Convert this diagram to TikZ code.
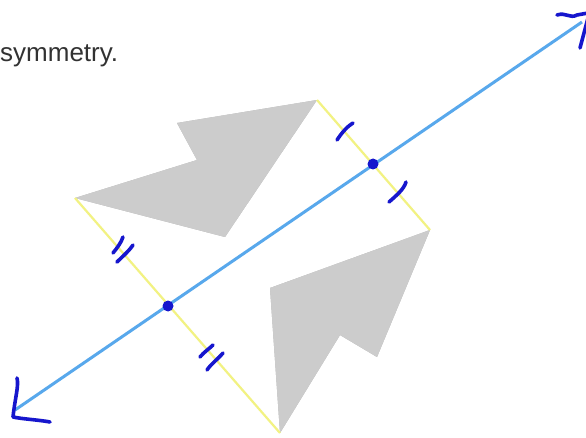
\documentclass[tikz,border=0pt]{standalone}
\usepackage{fontspec}
\setmainfont{Liberation Sans}
\definecolor{axisblue}{RGB}{88,168,236}
\definecolor{pen}{RGB}{22,22,205}
\definecolor{yel}{RGB}{242,242,130}
\definecolor{shapegray}{RGB}{204,204,204}
\definecolor{txt}{RGB}{50,50,50}
\tikzset{
  axisline/.style={draw=axisblue, line width=3pt},
  yelline/.style={draw=yel, line width=2.2pt},
  penstroke/.style={draw=pen, line width=3.6pt, line cap=round, line join=round},
  figfill/.style={fill=shapegray},
  shadowfill/.style={fill=black, fill opacity=0.08},
  dotmark/.style={circle, fill=pen, inner sep=0pt, minimum size=11pt}
}
\begin{document}
\begin{tikzpicture}[x=1pt,y=-1pt]
\useasboundingbox[fill=white] (0,0) rectangle (586,438);
% axis ends
\coordinate (A1) at (15,410);
\coordinate (A2) at (582,22);
% top shape
\coordinate (T1) at (75,198);
\coordinate (T2) at (197,160);
\coordinate (T3) at (177,123);
\coordinate (T4) at (317,100);
\coordinate (T5) at (225,237);
% bottom shape
\coordinate (B1) at (430,230);
\coordinate (B2) at (270,288);
\coordinate (B3) at (280,433);
\coordinate (B4) at (340,335);
\coordinate (B5) at (377,357);
% soft shadows
\foreach \d in {1,2,3,4}{
  \path[shadowfill, shift={(\d*0.9,\d*0.9)}] (T1)--(T2)--(T3)--(T4)--(T5)--cycle;
  \path[shadowfill, shift={(\d*0.9,\d*0.9)}] (B1)--(B2)--(B3)--(B4)--(B5)--cycle;
}
% shapes
\path[figfill] (T1)--(T2)--(T3)--(T4)--(T5)--cycle;
\path[figfill] (B1)--(B2)--(B3)--(B4)--(B5)--cycle;
% yellow segments
\draw[yelline] (T1) -- (B3);
\draw[yelline] (T4) -- (B1);
% axis
\draw[axisline] (A1) -- (A2);
% dots
\node[dotmark] (P) at (168,306) {};
\node[dotmark] (Q) at (373,164) {};
% ticks
\draw[penstroke] (353,123) .. controls (348,126) and (343,131) .. (337,140);
\draw[penstroke] (406,182) .. controls (404,189) and (397,195) .. (389,202);
\draw[penstroke] (123,237) .. controls (121,243) and (117,248) .. (113,253);
\draw[penstroke] (133,245) .. controls (129,251) and (122,257) .. (117,262);
\draw[penstroke] (213,345) .. controls (209,349) and (204,352) .. (200,357);
\draw[penstroke] (223,353) .. controls (218,359) and (211,364) .. (207,370);
% hand-drawn arrowheads
\draw[penstroke] (17,378) .. controls (19,386) and (15,398) .. (13,417)
  .. controls (22,419) and (40,420) .. (50,422);
\draw[penstroke] (557,15) .. controls (566,12) and (570,19) .. (577,15) -- (588,13);
\draw[penstroke] (588,18) -- (580,48);
% text
\node[anchor=base west, inner sep=0pt, text=txt, font=\fontsize{26}{31}\selectfont] (T) at (0,62) {symmetry.};
\end{tikzpicture}
\end{document}
